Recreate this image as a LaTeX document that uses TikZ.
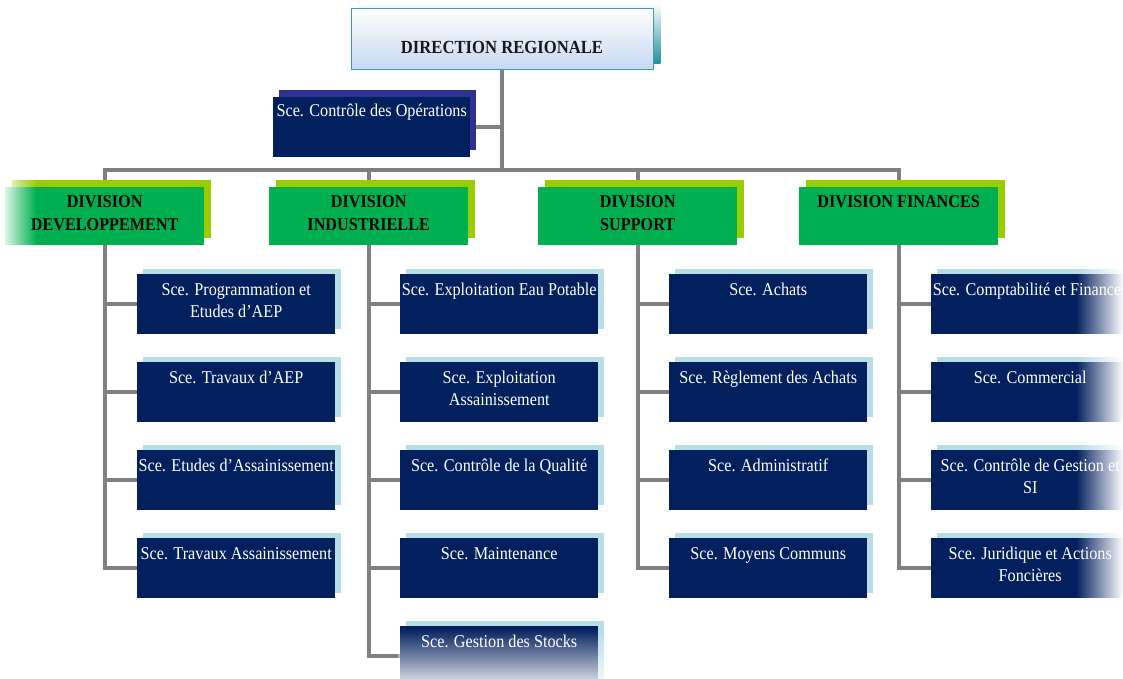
\documentclass[tikz,border=0pt]{standalone}
\usepackage{fontspec}
\setmainfont{Liberation Serif}[FakeStretch=0.9]
\usetikzlibrary{shadows,fadings,backgrounds,calc}
\definecolor{svcnavy}{HTML}{03205E}
\definecolor{svcsh}{HTML}{B7DDE6}
\definecolor{ctlsh}{HTML}{2E3192}
\definecolor{divgreen}{HTML}{00B050}
\definecolor{divsh}{HTML}{9ACD00}
\definecolor{dirfill}{HTML}{C6D8F0}
\definecolor{dirline}{HTML}{3B9CB0}
\definecolor{dirsh}{HTML}{23919C}
\definecolor{conncol}{HTML}{808080}
\newcommand\mystrut{\rule{0pt}{13pt}}
\newcommand\svcnode[4]{%
  \node[svcbox] (#1) at (#2,#3) {};
  \node[svctext] (#1t) at ($(#1.north)+(0,8)$) {\mystrut #4};}
\begin{document}
\begin{tikzpicture}[x=1pt,y=-1pt,
  conn/.style={draw=conncol, line width=4pt, line join=miter},
  svcbox/.style={fill=svcnavy, minimum width=198pt, minimum height=60pt,
    inner sep=0pt, anchor=north west,
    drop shadow={shadow xshift=6pt, shadow yshift=5pt, fill=svcsh, opacity=1}},
  svctext/.style={anchor=north, inner sep=0pt, align=center, text=white,
    font=\fontsize{18}{22}\selectfont},
  ctlbox/.style={fill=svcnavy, minimum width=197pt, minimum height=60pt,
    inner sep=0pt, anchor=north west,
    drop shadow={shadow xshift=6pt, shadow yshift=7pt, fill=ctlsh, opacity=1}},
  divbox/.style={fill=divgreen, minimum width=199pt, minimum height=58pt,
    inner sep=0pt, anchor=north west,
    drop shadow={shadow xshift=7pt, shadow yshift=7pt, fill=divsh, opacity=1}},
  divtext/.style={anchor=north, inner sep=0pt, align=center, text=black,
    font=\fontsize{18}{23}\selectfont\bfseries},
  dirbox/.style={top color=white, bottom color=dirfill, draw=dirline, line width=0.8pt,
    minimum width=302pt, minimum height=61pt, inner sep=0pt, anchor=north west,
    drop shadow={shadow xshift=7pt, shadow yshift=6pt, top color=white, bottom color=dirsh, opacity=1}},
  dirtext/.style={anchor=base, inner sep=0pt, text=black!90,
    font=\fontsize{18.5}{22}\selectfont\bfseries}
]
\useasboundingbox (0,0) rectangle (1123,678);
\begin{scope}[on background layer]
\fill[white] (0,0) rectangle (1123,678);
\end{scope}

% Direction
\node[dirbox] (dir) at (351,8) {};
\node[dirtext] (dirt) at (502,53) {DIRECTION REGIONALE};

% Controle
\node[ctlbox] (ctl) at (273,97) {};
\node[svctext] (ctlt) at ($(ctl.north)+(0,6)$) {\mystrut Sce. Contrôle des Opérations};

% Bus coordinate
\coordinate (busy) at (0,170);

% Divisions
\node[divbox] (d1) at (5,187) {};
\node[divtext] (d1t) at ($(d1.north)+(0,7)$) {\mystrut DIVISION\\DEVELOPPEMENT};
\node[divbox] (d2) at (269,187) {};
\node[divtext] (d2t) at ($(d2.north)+(0,7)$) {\mystrut DIVISION\\INDUSTRIELLE};
\node[divbox] (d3) at (538,187) {};
\node[divtext] (d3t) at ($(d3.north)+(0,7)$) {\mystrut DIVISION\\SUPPORT};
\node[divbox] (d4) at (799,187) {};
\node[divtext] (d4t) at ($(d4.north)+(0,7)$) {\mystrut DIVISION FINANCES};

% Services column 1
\svcnode{s11}{137}{274}{Sce. Programmation et\\Etudes d’AEP}
\svcnode{s12}{137}{362}{Sce. Travaux d’AEP}
\svcnode{s13}{137}{450}{Sce. Etudes d’Assainissement}
\svcnode{s14}{137}{538}{Sce. Travaux Assainissement}
% column 2
\svcnode{s21}{400}{274}{Sce. Exploitation Eau Potable}
\svcnode{s22}{400}{362}{Sce. Exploitation\\Assainissement}
\svcnode{s23}{400}{450}{Sce. Contrôle de la Qualité}
\svcnode{s24}{400}{538}{Sce. Maintenance}
\svcnode{s25}{400}{626}{Sce. Gestion des Stocks}
% column 3
\svcnode{s31}{669}{274}{Sce. Achats}
\svcnode{s32}{669}{362}{Sce. Règlement des Achats}
\svcnode{s33}{669}{450}{Sce. Administratif}
\svcnode{s34}{669}{538}{Sce. Moyens Communs}
% column 4
\svcnode{s41}{931}{274}{Sce. Comptabilité et Finances}
\svcnode{s42}{931}{362}{Sce. Commercial}
\svcnode{s43}{931}{450}{Sce. Contrôle de Gestion et\\SI}
\svcnode{s44}{931}{538}{Sce. Juridique et Actions\\Foncières}

% Connectors
\begin{scope}[on background layer]
\draw[conn] (dir.south) -- (dir.south |- busy);
\draw[conn] (ctl.east) -- (ctl.east -| dir.south);
\draw[conn] (s14.west) -- (s14.west -| d1.center) -- (d1.center |- busy)
  -- (d4.center |- busy) -- (d4.center |- s44.west) -- (s44.west);
\draw[conn] (d2.center |- busy) -- (d2.center |- s25.west) -- (s25.west);
\draw[conn] (d3.center |- busy) -- (d3.center |- s34.west) -- (s34.west);
\foreach \s in {s11,s12,s13} \draw[conn] (\s.west -| d1.center) -- (\s.west);
\foreach \s in {s21,s22,s23,s24} \draw[conn] (\s.west -| d2.center) -- (\s.west);
\foreach \s in {s31,s32,s33} \draw[conn] (\s.west -| d3.center) -- (\s.west);
\foreach \s in {s41,s42,s43} \draw[conn] (\s.west -| d4.center) -- (\s.west);
\end{scope}

% Soft edges
\fill[white, path fading=east] (0,172) rectangle (36,252);
\fill[white, path fading=west] (1076,262) rectangle (1123,606);
\fill[white, path fading=north] (398,628) rectangle (612,692);
\end{tikzpicture}
\end{document}
